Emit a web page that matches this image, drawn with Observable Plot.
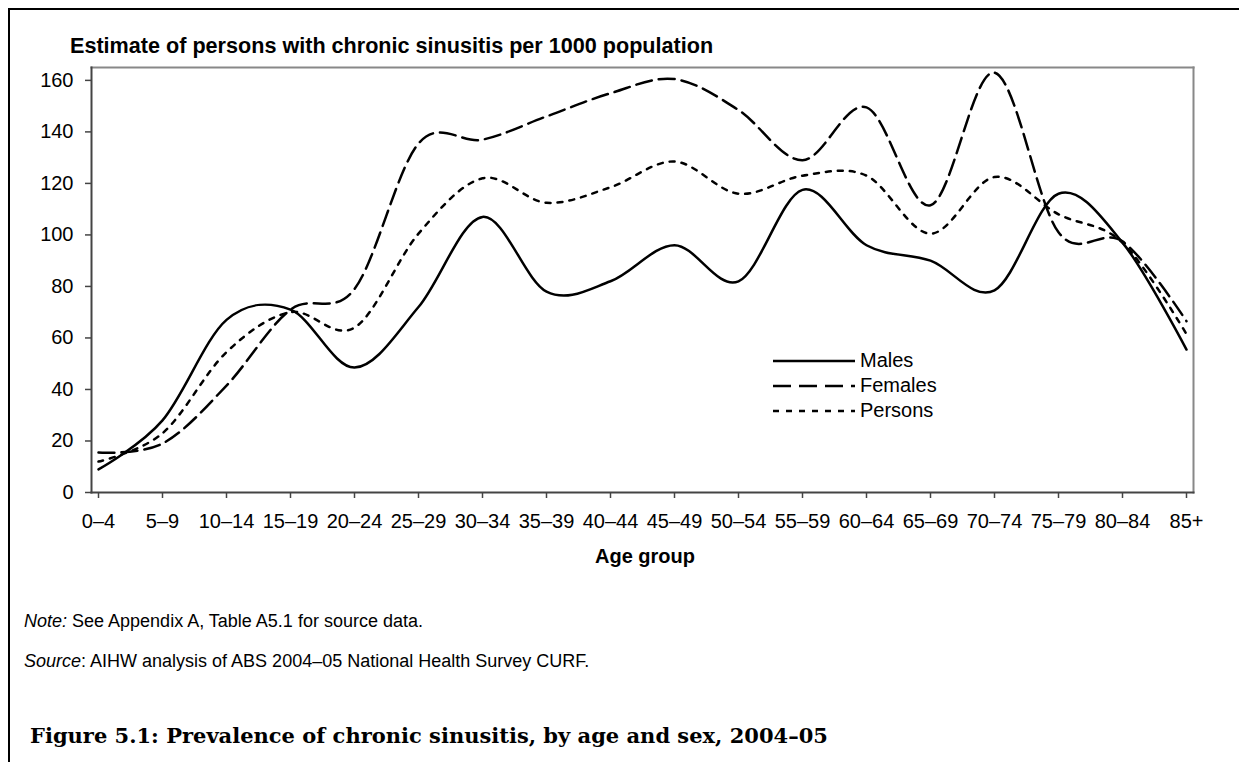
<!DOCTYPE html>
<html><head><meta charset="utf-8">
<script src="https://cdn.jsdelivr.net/npm/d3@7"></script>
<script src="https://cdn.jsdelivr.net/npm/@observablehq/plot@0.6"></script>
<style>
body{margin:0;background:#fff;font-family:"Liberation Sans",Arial,sans-serif;}
#wrap{position:relative;width:1239px;height:762px;overflow:hidden;background:#fff;}
#frame{position:absolute;left:8px;top:8px;width:1300px;height:800px;border-left:2px solid #000;border-top:2px solid #000;}
.t{position:absolute;white-space:nowrap;color:#000;line-height:1;}
#legend{position:absolute;left:773px;top:348px;font-size:20px;}
#legend .row{display:flex;align-items:center;height:25px;}
#legend svg{display:block;margin-right:5px;}
</style></head><body>
<div id="wrap">
<div id="frame"></div>
<div id="chart" style="position:absolute;left:0;top:0"></div>
<div class="t" style="left:70px;top:35px;font-weight:bold;font-size:21.6px">Estimate of persons with chronic sinusitis per 1000 population</div>
<div class="t" style="left:645px;top:546px;transform:translateX(-50%);font-weight:bold;font-size:20px">Age group</div>
<div class="t" style="left:24px;top:612px;font-size:18px"><i>Note:</i> See Appendix A, Table A5.1 for source data.</div>
<div class="t" style="left:24px;top:652px;font-size:18px"><i>Source</i>: AIHW analysis of ABS 2004–05 National Health Survey CURF.</div>
<div class="t" style="left:30px;top:725px;font-family:'DejaVu Serif','Liberation Serif',serif;font-weight:bold;font-size:21px">Figure 5.1: Prevalence of chronic sinusitis, by age and sex, 2004–05</div>
<div id="legend"></div>
</div>
<script>
const ageGroups = ["0–4","5–9","10–14","15–19","20–24","25–29","30–34","35–39","40–44","45–49","50–54","55–59","60–64","65–69","70–74","75–79","80–84","85+"];
const males   = [9, 28, 67, 71, 48.5, 72, 107, 78, 82, 96, 82, 117.5, 96, 90, 78.5, 116, 97, 55.5];
const females = [15.5, 19, 41.5, 71, 79, 135.5, 137, 146, 155, 160.5, 148.5, 129, 149.5, 111.5, 163, 101, 97.5, 66.5];
const persons = [12, 23, 54.5, 70, 64, 100.5, 122, 112.5, 118.5, 128.5, 116, 123, 123, 100.5, 122.5, 108, 97, 61.5];
const yTicks = [0, 20, 40, 60, 80, 100, 120, 140, 160];
const seriesNames = ["Males", "Females", "Persons"];
const dashes = {Males: null, Females: "16,7", Persons: "5,7"};

const seriesValues = {Males: males, Females: females, Persons: persons};
const data = seriesNames.flatMap(s => ageGroups.map((a, i) => ({age: a, value: seriesValues[s][i], series: s})));

const plot = Plot.plot({
  width: 1239, height: 540,
  marginLeft: 91, marginRight: 46, marginTop: 67, marginBottom: 48,
  style: {fontFamily: "'Liberation Sans', Arial, sans-serif", fontSize: "20px", color: "#000", background: "transparent", overflow: "visible"},
  x: {type: "point", domain: ageGroups, padding: 0},
  y: {domain: [0, 165]},
  marks: [
    Plot.frame({anchor: "top", stroke: "#888", strokeWidth: 2}),
    Plot.frame({anchor: "right", stroke: "#888", strokeWidth: 2}),
    Plot.frame({anchor: "left", stroke: "#444", strokeWidth: 2}),
    Plot.frame({anchor: "bottom", stroke: "#444", strokeWidth: 2}),
    Plot.axisY({ticks: yTicks, tickSize: 6, tickPadding: 12, label: null, stroke: "#444", strokeWidth: 1.5}),
    Plot.axisX({tickSize: 6, tickPadding: 15, label: null, stroke: "#444", strokeWidth: 1.5}),
    ...seriesNames.map(s => Plot.line(data.filter(d => d.series === s), {
      x: "age", y: "value", curve: "cardinal", tension: 0,
      stroke: "#000", strokeWidth: 2.5, strokeDasharray: dashes[s]
    }))
  ]
});
document.getElementById("chart").appendChild(plot);

const legend = document.getElementById("legend");
seriesNames.forEach(s => {
  const row = document.createElement("div");
  row.className = "row";
  const ns = "http://www.w3.org/2000/svg";
  const svg = document.createElementNS(ns, "svg");
  svg.setAttribute("width", 82); svg.setAttribute("height", 10);
  const ln = document.createElementNS(ns, "line");
  ln.setAttribute("x1", 0); ln.setAttribute("x2", 82); ln.setAttribute("y1", 5); ln.setAttribute("y2", 5);
  ln.setAttribute("stroke", "#000"); ln.setAttribute("stroke-width", 2.5);
  if (dashes[s]) ln.setAttribute("stroke-dasharray", s === "Females" ? "18,8" : "6,7");
  svg.appendChild(ln);
  row.appendChild(svg);
  const tx = document.createElement("span");
  tx.textContent = s;
  row.appendChild(tx);
  legend.appendChild(row);
});
</script>
</body></html>
